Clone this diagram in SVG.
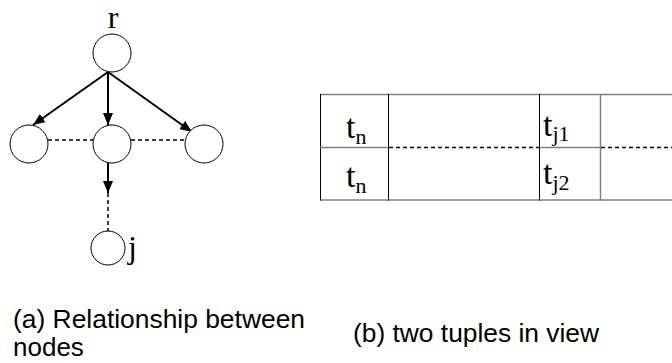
<svg xmlns="http://www.w3.org/2000/svg" width="672" height="363" viewBox="0 0 672 363">
<style>
.node{fill:#fff;stroke:#000;stroke-width:1}
.arrow{stroke:#000;stroke-width:2;fill:none}
.dash{stroke:#000;stroke-width:1.5;stroke-dasharray:4 3;fill:none}
.tm{font-family:"Liberation Serif","Times New Roman",serif;fill:#000}
.cap{font-family:"Liberation Sans",Arial,sans-serif;font-size:26px;fill:#000}
.grid{stroke:#000;stroke-width:1;fill:none}
.gray{stroke:#808080;stroke-width:1.5;fill:none}
</style>
<defs>
<marker id="ah" viewBox="0 0 12 10" refX="12" refY="5" markerWidth="6" markerHeight="5" orient="auto" markerUnits="strokeWidth">
<path d="M0,0 L12,5 L0,10 Z" fill="#000"/>
</marker>
</defs>
<g id="connectors">
<line class="arrow" x1="108" y1="72" x2="33" y2="125" marker-end="url(#ah)"/>
<line class="arrow" x1="108" y1="72" x2="108" y2="125" marker-end="url(#ah)"/>
<line class="arrow" x1="108" y1="72" x2="192" y2="132" marker-end="url(#ah)"/>
<line class="dash" x1="48" y1="140" x2="93" y2="140"/>
<line class="dash" x1="131" y1="140" x2="185" y2="140"/>
<line class="arrow" x1="108" y1="163" x2="108" y2="193" marker-end="url(#ah)"/>
<line class="dash" x1="108" y1="193" x2="108" y2="231"/>
</g>
<g id="node-r">
<circle class="node" cx="112" cy="53" r="19"/>
<text class="tm" x="113" y="28" font-size="32" text-anchor="middle">r</text>
</g>
<g id="node-left"><circle class="node" cx="29" cy="144" r="19"/></g>
<g id="node-mid"><circle class="node" cx="112" cy="144" r="19"/></g>
<g id="node-right"><circle class="node" cx="204" cy="144" r="19"/></g>
<g id="node-j">
<circle class="node" cx="108" cy="248" r="17"/>
<text class="tm" x="128" y="258" font-size="32">j</text>
</g>
<g id="table">
<line class="gray" x1="320" y1="94.5" x2="672" y2="94.5"/>
<line class="gray" x1="320" y1="200" x2="672" y2="200"/>
<line class="grid" x1="320.5" y1="94" x2="320.5" y2="200.5"/>
<line class="grid" x1="388.5" y1="94" x2="388.5" y2="200.5"/>
<line class="grid" x1="539.5" y1="94" x2="539.5" y2="200.5"/>
<line class="gray" x1="600.5" y1="94" x2="600.5" y2="200.5"/>
<line class="gray" x1="320" y1="147.5" x2="388" y2="147.5"/>
<line class="dash" x1="389" y1="147.5" x2="539" y2="147.5"/>
<line class="gray" x1="540" y1="147.5" x2="600" y2="147.5"/>
<line class="dash" x1="601" y1="147.5" x2="672" y2="147.5"/>
<text class="tm" x="346" y="138" font-size="34">t<tspan font-size="22" dy="6">n</tspan></text>
<text class="tm" x="346" y="187" font-size="34">t<tspan font-size="22" dy="6">n</tspan></text>
<text class="tm" x="543" y="136" font-size="34">t<tspan font-size="22" dy="5">j1</tspan></text>
<text class="tm" x="543" y="184" font-size="34">t<tspan font-size="22" dy="6">j2</tspan></text>
</g>
<g id="captions">
<text class="cap" x="13" y="328" textLength="292" lengthAdjust="spacingAndGlyphs">(a) Relationship between</text>
<text class="cap" x="13" y="356">nodes</text>
<text class="cap" x="353" y="342" textLength="246" lengthAdjust="spacingAndGlyphs">(b) two tuples in view</text>
</g>
</svg>
